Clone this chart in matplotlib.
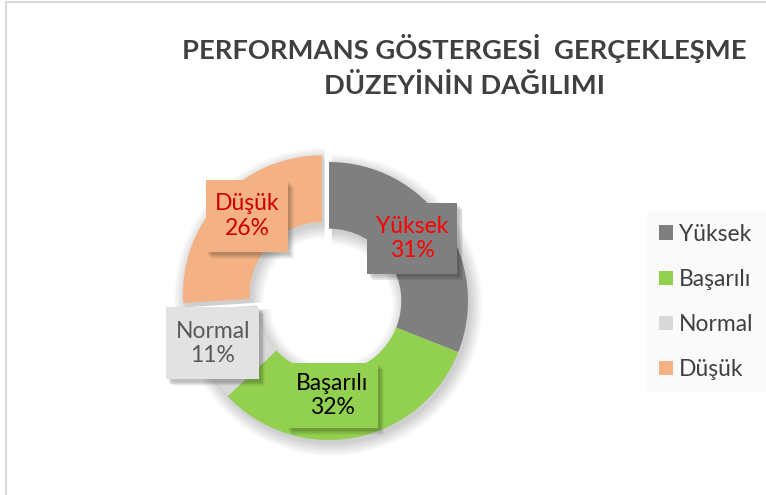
import matplotlib
matplotlib.use("Agg")
import matplotlib.pyplot as plt
from matplotlib.patches import Rectangle, Patch
from matplotlib.lines import Line2D
import numpy as np

categories = ["Yüksek", "Başarılı", "Normal", "Düşük"]
values = [31, 32, 11, 26]
colors = ["#7f7f7f", "#92d050", "#d9d9d9", "#f4b183"]
label_colors = ["#ff0000", "#000000", "#595959", "#cc0000"]
box_colors = ["#7f7f7f", "#92d050", "#e2e2e2", "#f4b183"]
explode = [0, 0, 0, 0.07]
# label placement (radius fraction, angle deg) and box size (data units)
label_place = [(0.75, 37), (0.68, -88), (0.89, -160), (0.85, 134)]
box_size = [(0.65, 0.51), (0.66, 0.47), (0.67, 0.52), (0.59, 0.52)]
title = "PERFORMANS GÖSTERGESİ  GERÇEKLEŞME\nDÜZEYİNİN DAĞILIMI"

plt.rcParams['font.family'] = ['Lato', 'DejaVu Sans']

W, H = 766, 495
fig = plt.figure(figsize=(W/100, H/100), dpi=100)
fig.patch.set_facecolor("white")

# chart border (top & left visible)
fig.add_artist(Line2D([6/W, 1], [1-2/H, 1-2/H], color="#d9d9d9", lw=1.5))
fig.add_artist(Line2D([6/W, 6/W], [0, 1-2/H], color="#d9d9d9", lw=1.5))

cx, cy, R = 329, 301, 139
lim = 1.2
size = 2*lim*R
ax = fig.add_axes([(cx-size/2)/W, (H-cy-size/2)/H, size/W, size/H])

# soft shadow
for k in range(8):
    ax.pie(values, radius=1.0+0.012*k, startangle=90, counterclock=False,
           explode=explode, colors=["#000000"]*4,
           wedgeprops=dict(width=0.48+0.024*k, alpha=0.022, linewidth=0),
           center=(0.02, -0.03))

wedges, _ = ax.pie(values, radius=1.0, startangle=90, counterclock=False,
                   explode=explode, colors=colors,
                   wedgeprops=dict(width=0.48, linewidth=0))

ax.set_xlim(-lim, lim)
ax.set_ylim(-lim, lim)
ax.set_aspect("equal")
ax.axis("off")

total = sum(values)
for cat, v, lc, bc, (r, a), (bw, bh) in zip(categories, values, label_colors,
                                            box_colors, label_place, box_size):
    x, y = r*np.cos(np.radians(a)), r*np.sin(np.radians(a))
    txt = f"{cat}\n{round(100*v/total)}%"
    ax.text(x, y, txt, ha="center", va="center", fontsize=16.5, color=lc,
            linespacing=1.2, zorder=6)
    for s in range(6):
        d = 0.006*s
        ax.add_patch(Rectangle((x-bw/2+0.012+d, y-bh/2-0.018-d), bw, bh,
                               fc=(0, 0, 0, 0.045), ec="none", zorder=4))
    ax.add_patch(Rectangle((x-bw/2, y-bh/2), bw, bh, fc=bc, ec="none", zorder=5))

fig.text(464/W, 1-66/H, title, ha="center", va="center", fontsize=19.7,
         fontweight="bold", color="#404040", linespacing=1.5)

handles = [Patch(facecolor=c, edgecolor="none", label=cat) for c, cat in zip(colors, categories)]
leg = fig.legend(handles=handles, loc="center left", bbox_to_anchor=(647/W, 1-302/H),
                 frameon=True, fontsize=16.5, labelcolor="#404040", handlelength=0.61,
                 handleheight=0.61, handletextpad=0.27, labelspacing=1.05,
                 borderpad=0.52, borderaxespad=0)
leg.get_frame().set_facecolor("#f9f9f9")
leg.get_frame().set_edgecolor("none")
leg.get_frame().set_boxstyle("square", pad=0)

fig.savefig("out.png", dpi=100)
